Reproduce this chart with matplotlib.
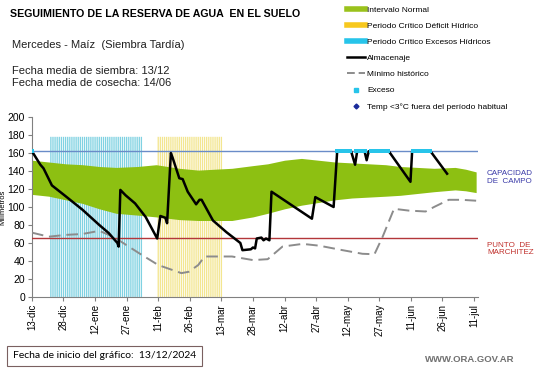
import numpy as np
import matplotlib
matplotlib.use("Agg")
import matplotlib.pyplot as plt
from matplotlib.lines import Line2D

plt.rcParams["font.family"] = ["Liberation Sans", "DejaVu Sans"]

# day 0 = 13-dic-2024
tick_labels = ["13-dic", "28-dic", "12-ene", "27-ene", "11-feb", "26-feb", "13-mar",
               "28-mar", "12-abr", "27-abr", "12-may", "27-may", "11-jun", "26-jun", "11-jul"]
tick_days = [0, 15, 30, 45, 60, 75, 90, 105, 120, 135, 150, 165, 180, 195, 210]

capacidad_campo = 162
punto_marchitez = 65

# periodos criticos (dia inicio, dia fin)
periodo_exceso = (9, 52)
periodo_deficit = (60, 90)
altura_periodo = 178

# intervalo normal
band_days = [0, 8, 16, 24, 32, 40, 50, 59, 70, 79, 95, 105, 112, 120, 128, 136, 144, 152,
             160, 168, 175, 183, 191, 201, 206, 211]
band_upper = [152, 150, 148, 147, 145, 144, 145, 147, 143, 141, 143, 146, 148, 152, 154, 152,
              150, 149, 148, 147, 145, 144, 143, 144, 142, 139]
band_lower = [114, 112, 108, 104, 98, 93, 91, 89, 86, 85, 85, 89, 93, 98, 102, 105, 108, 110,
              111, 112, 113, 115, 117, 119, 118, 116]

# minimo historico
min_days = [0, 8, 16, 24, 32, 36.5, 40, 51, 60, 71, 74.5, 79, 82, 95, 105, 112, 116, 119,
            128.6, 136.5, 147.6, 157, 162.7, 166.6, 172, 179, 187, 191, 198, 204, 211]
min_vals = [71.5, 67, 69, 70, 73.5, 69, 65, 48.5, 35.5, 26.5, 28, 35.5, 45, 45, 41, 42, 50, 56,
            59, 57, 52, 48, 47.5, 67, 98, 96, 95, 100, 108, 108, 107]

# almacenaje
alm_days = [0, 2.4, 4, 5.5, 9.5, 16, 24, 32, 36.5, 40.6, 41.2, 42, 44.5, 49, 54, 59.5, 61,
            63.4, 64.2, 66, 66.8, 70, 71.6, 74, 78, 79.6, 80.6, 86, 92.4, 99, 100, 104, 105,
            106, 106.8, 109, 110, 111.2, 112.8, 113.8, 133, 134.6, 143.3, 145, 151.6, 153.5,
            154.5, 158, 159, 160, 169.5, 179.8, 180.6, 189.3, 197.2]
alm_vals = [162, 153, 147, 143, 124, 112, 97, 80, 71, 60, 56, 119, 113, 104, 89, 65, 90,
            88, 82, 160, 155, 132, 131, 117, 103, 108, 108, 85, 72, 60, 52, 53, 55,
            54, 65, 66, 63, 65, 63, 117, 87, 111, 100, 162, 162, 147,
            162, 162, 152, 162, 162, 128, 162, 162, 137]

# dias con exceso
exceso_days = [0, 145, 146, 147, 148, 149, 150, 151, 154, 155, 156, 157, 158,
               161, 162, 163, 164, 165, 166, 167, 168, 169,
               181, 182, 183, 184, 185, 186, 187, 188, 189]

fig = plt.figure(figsize=(5.41, 3.68), dpi=100)
ax = fig.add_axes([0.059, 0.193, 0.825, 0.489])

green = "#8dc012"
cyan_band = "#80d2e2"
yellow_band = "#f3e690"

d = np.arange(periodo_exceso[0], periodo_exceso[1] + 1)
ax.bar(d, altura_periodo, width=0.62, color=cyan_band, zorder=1, linewidth=0, snap=False)
d = np.arange(periodo_deficit[0], periodo_deficit[1] + 1)
ax.bar(d, altura_periodo, width=0.62, color=yellow_band, zorder=1, linewidth=0, snap=False)

ax.fill_between(band_days, band_lower, band_upper, color=green, linewidth=0, zorder=2)

ax.axhline(capacidad_campo, color="#6a8cc8", lw=1.0, zorder=3)
ax.axhline(punto_marchitez, color="#b3373a", lw=1.0, zorder=3)

ax.plot(min_days, min_vals, color="#8c8c8c", lw=1.4, dashes=(6, 3), zorder=4)
ax.plot(alm_days, alm_vals, color="black", lw=1.8, zorder=5)
ax.plot(exceso_days, [capacidad_campo] * len(exceso_days), ls="none", marker="s",
        ms=2.6, color="#27c4ea", mew=0, zorder=6)

ax.set_xlim(0, 212)
ax.set_ylim(0, 200)
ax.set_yticks(range(0, 201, 20))
ax.set_xticks(tick_days)
ax.set_xticklabels(tick_labels, rotation=90, fontsize=7)
ax.tick_params(axis="y", labelsize=7.5, length=3, color="#808080", pad=2)
ax.tick_params(axis="x", length=3, color="#808080", pad=2)
for s in ["top", "right"]:
    ax.spines[s].set_visible(False)
for s in ["left", "bottom"]:
    ax.spines[s].set_color("#808080")
ax.set_ylabel("Milímetros", fontsize=5.5, labelpad=1)

fig.text(0.018, 0.962, "SEGUIMIENTO DE LA RESERVA DE AGUA  EN EL SUELO", fontsize=7.7,
         fontweight="bold", va="center")
fig.text(0.022, 0.877, "Mercedes - Maíz  (Siembra Tardía)", fontsize=8, va="center", color="#202020")
fig.text(0.022, 0.808, "Fecha media de siembra: 13/12", fontsize=8, va="center", color="#202020")
fig.text(0.022, 0.775, "Fecha media de cosecha: 14/06", fontsize=8, va="center", color="#202020")

fig.text(0.900, 0.518, "CAPACIDAD\nDE  CAMPO", fontsize=5.8, color="#3a3aa8", va="center",
         linespacing=1.1)
fig.text(0.900, 0.323, "PUNTO  DE\nMARCHITEZ", fontsize=5.8, color="#c0302c", va="center",
         linespacing=1.1)

handles = [
    Line2D([], [], color="#9ac21c", lw=4),
    Line2D([], [], color="#f7c81e", lw=4),
    Line2D([], [], color="#27c4ea", lw=4),
    Line2D([], [], color="black", lw=1.8),
    Line2D([], [], color="#8c8c8c", lw=1.4, dashes=(4, 2)),
    Line2D([], [], ls="none", marker="s", ms=2.5, color="#27c4ea"),
    Line2D([], [], ls="none", marker="D", ms=2.5, color="#1a2a9a"),
]
labels = ["Intervalo Normal", "Periodo Crítico Déficit Hídrico", "Periodo Crítico Excesos Hídricos",
          "Almacenaje", "Mínimo histórico", "Exceso", "Temp <3°C fuera del período habitual"]
fig.legend(handles, labels, loc="upper left", bbox_to_anchor=(0.630, 1.0), frameon=False,
           fontsize=6, labelspacing=0.99, handlelength=2.2, handletextpad=0.2, borderpad=0.25)

fig.text(0.024, 0.033, "Fecha de inicio del gráfico:  13/12/2024", fontsize=7.5, family="Lato",
         va="center", bbox=dict(boxstyle="square,pad=0.55", fc="white", ec="#7a6060", lw=0.8))
fig.text(0.785, 0.022, "WWW.ORA.GOV.AR", fontsize=6.8, color="#707070", fontweight="bold",
         va="center")

fig.savefig("out.png", dpi=100)
